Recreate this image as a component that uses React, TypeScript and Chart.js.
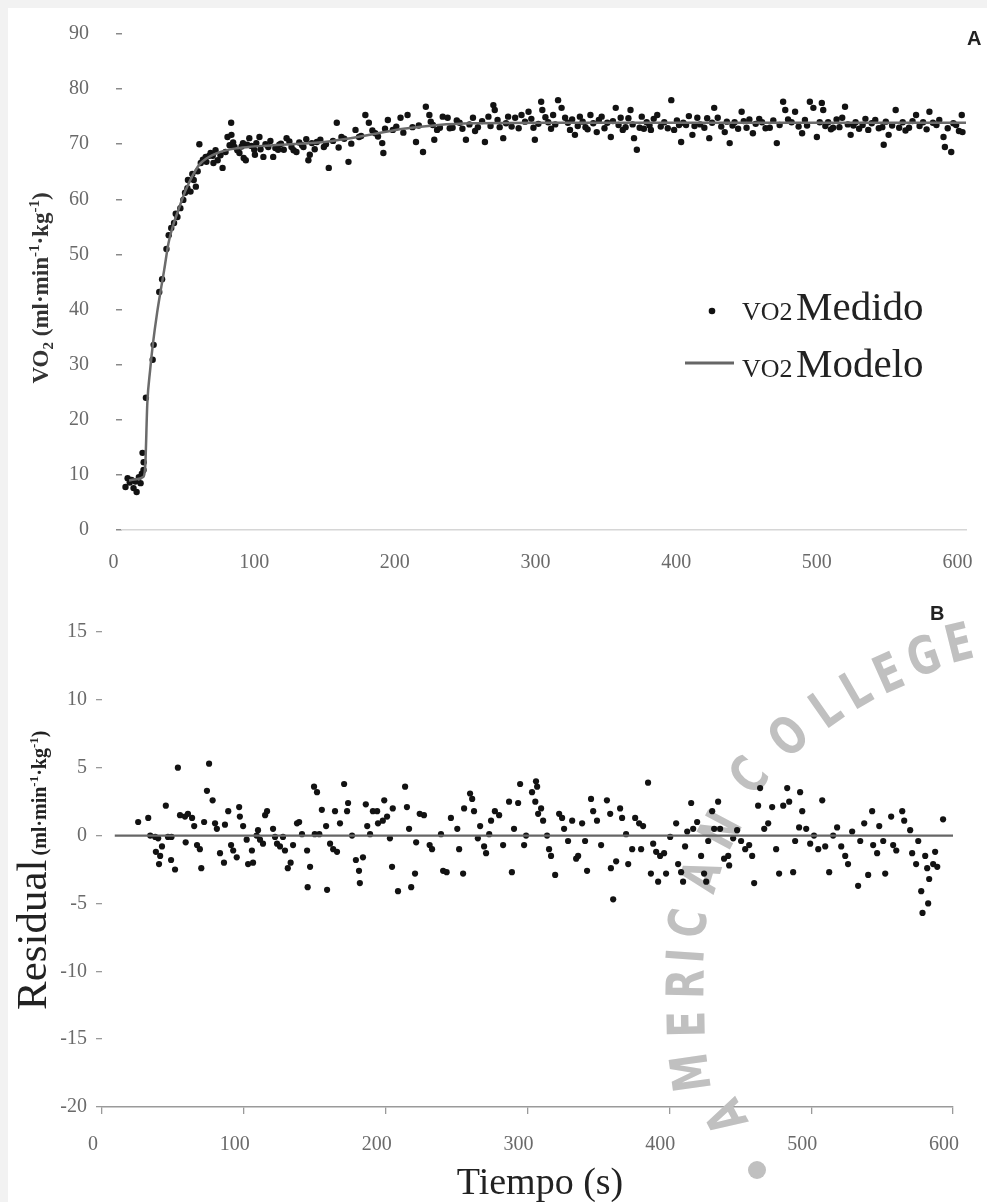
import { useEffect, useRef } from "react";
import { Chart, registerables } from "chart.js";
Chart.register(...registerables);

const SERIF = '"Liberation Serif", "Times New Roman", serif';
const SANS = '"Liberation Sans", Arial, sans-serif';

// ---- Panel A: measured VO2 (time s, ml/min/kg)
const measuredPoints: [number, number][] = [
  [2.5,7.8],[4,9.4],[5.5,8.6],[6.8,9.1],[8.2,7.6],[9.5,8.8],[10.4,6.9],[12,9.6],[13.2,8.5],[14.1,10.2],[14.6,14.0],[15.3,10.9],[15.4,12.3],
  [17.0,24.0],[21.8,30.9],[22.5,33.6],[26.5,43.2],[28.5,45.5],[31.6,51.0],[33.2,53.5],[35,54.8],[37,55.7],[38.2,57.4],[39.4,56.8],[41.5,58.4],
  [43.6,59.9],[44.8,61.2],[46.5,62.0],[46.9,63.5],[48.7,61.4],[50,64.6],[51,63.5],[52.5,62.3],[53.8,65.1],[55,70.0],[56,66.6],[57.5,67.2],
  [59.5,67.7],[60,66.8],[62,67.9],[63,68.4],[64.5,67.9],[65,66.6],[66.5,68.9],[68,67.1],[70,68.0],[71.5,65.7],[73.6,68.6],[75,71.3],
  [76.5,69.8],[77.6,73.9],[77.8,71.7],[79,70.3],[80,69.5],[82,68.9],[83.5,68.4],[85,69.6],[86,70.2],[86.5,67.5],[88,67.1],[89,69.9],
  [90.5,71.1],[92,69.7],[94,69.0],[94.5,68.1],[95.5,70.2],[97.7,71.3],[98.5,69.1],[100.5,67.7],[102,70.0],[104,69.5],[105.5,70.6],
  [107.5,67.7],[109,69.3],[111,69.0],[111.8,69.9],[113,70.1],[115,69.0],[117,71.1],[119,70.5],[120.5,69.5],[122,68.9],[124,68.6],
  [126,70.3],[128,69.8],[129,69.5],[131,70.9],[132.5,67.1],[133.5,68.1],[135,70.2],[137,69.1],[138.5,70.4],[141,70.8],[143.5,69.5],
  [145,70.0],[147,65.7],[150,70.6],[152.7,73.9],[154,69.4],[156,71.3],[158,71.0],[161,66.8],[163,70.1],[166,72.6],[168.5,71.3],
  [170,71.5],[173,75.3],[175.5,73.9],[178,72.5],[180,72.0],[182,71.4],[185,70.2],[185.8,68.4],[187,72.8],[189,74.4],[192.5,72.6],
  [195,73.2],[198,74.8],[200,72.1],[203,75.3],[206.5,73.1],[209,70.4],[211,73.4],[214,68.6],[216,76.8],[218.5,75.3],[219.5,74.1],
  [221,73.5],[222,70.8],[224,72.6],[226,73.0],
  [228,75.0],[231.5,74.8],[233,72.9],[235,73.0],[238,74.3],[240,73.9],[242,72.8],[244.5,70.8],[247,73.6],[249.5,74.8],[251,72.4],
  [253,73.1],[256,74.2],[258,70.4],[260.5,75.0],[262,73.3],[264,77.1],[265,76.2],[267,74.4],[268.5,73.1],[271,71.1],[273,73.8],
  [274.5,75.0],[277,73.2],[279.5,74.8],[282,72.9],[284,75.3],[286.5,74.1],[289,75.9],[291,74.6],[292.5,73.0],[293.5,70.8],[296,73.7],
  [298,77.7],[298.8,76.2],[301,74.9],[303,74.0],[305,72.8],[306.5,75.3],[308,73.6],[310,78.0],[312.5,76.6],[315,74.8],[317,73.9],
  [318.5,72.6],[320,74.5],[322,71.7],[324,73.3],[325.5,75.0],[327.5,74.1],[329.5,73.1],[331,72.7],[333,75.3],[335,73.8],[337.5,72.2],
  [339,74.4],[341,75.0],[343,72.9],[345,73.9],[347.5,71.3],[349,74.2],[351,76.6],[353,73.5],[354.5,74.8],[356,72.6],[358,73.1],
  [360,74.7],[361.5,76.2],[363,73.6],[364,71.1],[366,69.0],[368,73.0],[369.5,75.0],[371,72.8],[373,74.0],[375,73.4],[376,72.6],
  [378,74.6],[380.5,75.3],[383,73.2],[385.5,74.0],[388,72.9],[390.5,78.0],[392.5,72.6],[394.5,74.3],[396,73.5],[397.5,70.4],[399,73.9],
  [401,73.5],[403,75.1],[405.5,71.7],[407,73.3],[409,74.8],
  [411,73.6],[414,73.0],[416,74.7],[417.5,71.1],[419.5,73.9],[421,76.6],[423.5,74.8],[426,73.2],[428.5,72.2],[430,74.1],[432,70.2],
  [434,73.4],[435.5,74.0],[438,72.8],[440.5,75.9],[442,74.2],[444,73.0],[446,74.5],[448.5,72.0],[450.5,73.7],[453,74.6],[455,74.0],
  [457.5,72.9],[460.5,73.0],[463,74.3],[465.5,70.2],[467.5,73.5],[470,77.7],[471.5,76.2],[473.5,74.5],[476,74.0],[478.5,75.9],
  [481,73.2],[483.5,72.0],[485.5,74.4],[487,73.4],[489,77.7],[491.5,76.6],[494,71.3],[496,74.0],[497.5,77.5],[498.5,76.2],[500,73.3],
  [502,74.0],[504,72.7],[505.5,73.0],[508,74.5],[510,73.1],[512,74.8],[514,76.8],[516,73.6],[518,71.7],[520,73.4],[521.5,74.0],
  [524,72.8],[526.5,73.5],[528.5,74.6],[530.5,72.6],[533,73.8],[535.5,74.4],[538,72.9],[540.5,73.1],[541.5,69.9],[543,74.1],
  [545,71.7],[547.5,73.4],[550,76.2],[552.5,73.0],[555,74.0],[557,72.5],[559.5,73.0],[562,74.2],[564.5,75.3],[567,73.3],[569.5,74.0],
  [572,72.7],[574,75.9],[576.5,73.9],[579,73.5],[581,74.4],[584,71.3],[585,69.5],[587,72.9],[589.5,68.6],[591,73.8],[593,73.5],
  [595,72.4],[597,75.3],[597.5,72.2]
];

// ---- Panel A: fitted model
const modelTime = [5, 10, 15, 16.5, 18, 20, 22, 25, 28, 30, 33, 36, 40, 45, 50, 55, 60, 70, 80, 90, 100, 120, 140, 160, 180, 200, 225, 250, 300, 400, 500, 600];
const modelVO2 = [9.0, 9.2, 9.6, 11.5, 23.0, 29.0, 33.8, 39.5, 44.2, 47.2, 52.0, 55.0, 58.0, 61.5, 64.2, 66.3, 67.4, 68.6, 69.2, 69.5, 69.7, 70.0, 70.3, 71.0, 71.9, 72.8, 73.5, 73.8, 73.9, 73.9, 73.9, 73.9];

// ---- Panel B: residuals
const residualPoints: [number, number][] = [
  [25.5,1.0],[32.6,1.3],[34,0],[37.5,-0.1],[39.6,-0.2],[38,-1.2],[42.3,-0.8],[41,-1.5],[40.2,-2.1],[45,2.2],[46.5,-0.1],[49,-0.1],
  [48.7,-1.8],[51.5,-2.5],[53.5,5.0],[55,1.5],[58.5,1.4],[60.6,1.6],[63.5,1.3],[65,0.7],[59,-0.5],[67,-0.7],[69,-1.0],[70,-2.4],
  [72,1.0],[74,3.3],[78,2.6],[75.5,5.3],[79.7,0.9],[81,0.5],[83.2,-1.3],[86,-2.0],[86.7,0.8],[89,1.8],[91,-0.7],[92.5,-1.1],[95,-1.6],
  [96.7,2.1],[97.2,1.4],[99.5,0.7],[102,-0.3],[103,-2.1],[105.7,-1.1],[106.5,-2.0],[109,0],[110,0.4],[111.4,-0.3],[113.5,-0.6],
  [115,1.5],[116.4,1.8],[120.6,0.5],[122,-0.1],[123.4,-0.6],[125.5,-0.8],[127.6,-0.1],[129,-1.1],[131,-2.4],[133,-2.0],[134.7,-0.7],
  [137.5,0.9],[139,1.0],[141,0.1],[144.6,-1.1],[145,-3.8],[146.7,-2.3],[149.5,3.6],[151.6,3.2],[150,0.1],[155,1.9],[153.2,0.1],
  [158,0.7],[158.7,-4.0],[160.8,-0.6],[163,-1.0],[164.3,1.8],[165.7,-1.2],[167.8,0.9],[170.7,3.8],[172.8,1.8],[173.5,2.4],[176.3,0],
  [179,-1.8],[181.2,-2.6],[181.8,-3.5],[184,-1.6],[186,2.3],[187,0.7],[189,0.1],[191,1.8],[194,1.8],[194.6,0.9],[198,1.1],[199,2.6],
  [201,1.4],[203,-0.2],[204.5,-2.3],[205,2.0],[208.7,-4.1],
  [213.7,3.6],[215,2.1],[216.5,0.5],[218,-3.8],[220.7,-2.8],[221.5,-0.5],[224,1.6],[227,1.5],[231,-0.7],[232.7,-1.0],[239,0.1],
  [240.5,-2.6],[243,-2.7],[246,1.3],[250.5,0.5],[251.8,-1.0],[254.6,-2.8],[255.3,2.0],[259.5,3.1],[261,2.7],[262.3,1.8],[265,-0.2],
  [266.6,0.7],[269.4,-0.8],[270.8,-1.3],[273,0.1],[274.3,1.1],[277,1.8],[280,1.5],[282.8,-0.7],[287,2.5],[289,-2.7],[290.5,0.5],
  [293.4,2.4],[294.8,3.8],[297.6,-0.7],[299,0],[303.2,3.2],[306,4.0],[306.8,3.6],[305.5,2.5],[307.5,1.6],[309.6,2.0],[311,1.1],
  [313.8,0],[315.2,-1.0],[316.6,-1.5],[319.5,-2.9],[322.3,1.6],[324.4,1.3],[325.8,0.5],[328.6,-0.4],[331.5,1.1],[334.3,-1.7],
  [335.7,-1.5],[338.5,0.9],[340.6,-0.4],[342,-2.6],[344.8,2.7],[346.3,1.8],[349,1.1],[351.9,-0.7],[356,2.6],[358.3,1.6],[358.8,-2.4],
  [360.4,-4.7],[362.5,-1.9],[365.3,2.0],[366.7,1.3],[369.5,0.1],[371,-2.1],[373.8,-1.0],[375.9,1.3],[378.7,0.9],[380.1,-1.0],
  [381.5,0.7],[385,3.9],[387,-2.8],[388.6,-0.6],[390.7,-1.2],[392.1,-3.4],[393.5,-1.5],[396.3,-1.3],[397.7,-2.8],[400.6,-0.1],
  [404.8,0.9],[406.2,-2.1],[408.3,-2.7],[409.7,-3.4],[411.1,-0.8],[412.6,0.3],[415.4,2.4],[416.8,0.5],[419.6,1.0],[422.4,-1.5],
  [424.5,-2.8],[426,-3.4],[427.4,-0.4],[430.2,1.8],[431.6,0.5],[434.4,2.5],[435.8,0.5],[438.6,-1.7],[441.5,-1.5],[442.2,-2.2],
  [445,-0.2],[447.8,0.4],[450.6,-0.4],[453.5,-1.0],[456.3,-0.7],[458.4,-1.5],[459.8,-3.5],[462.6,2.2],[464,3.5],[466.9,0.5],
  [469.7,0.9],[472.5,2.1],[475.3,-1.0],[477.4,-2.8],[480.3,2.2],[483.1,3.5],[484.5,2.5],[487.3,-2.7],[488.7,-0.4],[491.5,0.6],
  [492.2,3.2],[493.7,1.8],[496.5,0.5],[499.3,-0.6],[502,0],[505,-1.0],[507.8,2.6],[509.9,-0.8],[512.7,-2.7],[515.5,0],[518.3,0.6],
  [521.2,-0.8],[524,-1.5],[526,-2.1],[528.9,0.3],[533.1,-3.7],[534.6,-0.4],[537.4,0.9],[540.2,-2.9],[543,1.8],[543.7,-0.7],
  [546.5,-1.3],[548,0.7],[550.8,-0.4],[552.2,-2.8],[556.4,1.4],[557.8,-0.7],[560,-1.1],[564.2,1.8],[565.6,1.1],[569.8,0.4],
  [571.2,-1.3],[574,-2.1],[575.5,-0.4],[577.6,-4.1],[580.4,-1.5],[581.8,-2.4],[583.2,-3.2],[582.5,-5.0],[578.5,-5.7],[586,-2.1],
  [587.4,-1.2],[588.9,-2.3],[593,1.2]
];
const residualLineTime = [9, 600];
const residualLineValue = [0, 0];

// ---- Axis ticks
const xTicks = [0, 100, 200, 300, 400, 500, 600];
const yTicksA = [0, 10, 20, 30, 40, 50, 60, 70, 80, 90];
const yTicksB = [-20, -15, -10, -5, 0, 5, 10, 15];

// ---- Watermark letters (decoration)
const watermark: [string, number, number, number][] = [
  ["A", 722, 527, -118], ["M", 687, 484, -98], ["E", 683, 436, -91], ["R", 682, 396, -89], ["I", 682, 368, -86],
  ["C", 684, 336, -80], ["A", 697, 289, -73], ["N", 716, 244, -62],
  ["C", 744, 190, -50], ["O", 783, 151, -42], ["L", 820, 124, -35], ["L", 850, 105, -30], ["E", 882, 89, -24],
  ["G", 917, 72, -19], ["E", 952, 59, -14]
];

type Part = { t: string; size: number; bold?: boolean; dy?: number };
function drawRich(ctx: CanvasRenderingContext2D, x: number, y: number, angle: number, parts: Part[], align: "left" | "center", color: string) {
  ctx.save();
  ctx.translate(x, y);
  ctx.rotate(angle);
  ctx.fillStyle = color;
  ctx.textAlign = "left";
  ctx.textBaseline = "alphabetic";
  const fontOf = (p: Part) => `${p.bold ? "bold " : ""}${p.size}px ${SERIF}`;
  let total = 0;
  for (const p of parts) { ctx.font = fontOf(p); total += ctx.measureText(p.t).width; }
  let cx = align === "center" ? -total / 2 : 0;
  for (const p of parts) {
    ctx.font = fontOf(p);
    ctx.fillText(p.t, cx, p.dy || 0);
    cx += ctx.measureText(p.t).width;
  }
  ctx.restore();
}

const W = 979;
const HA = 580;
const HB = 614;

function tickOpts(size: number, padding: number, labelOffset = 0) {
  return {
    font: { family: SERIF, size },
    color: "#6a6a6a",
    padding,
    labelOffset,
    autoSkip: false,
    maxRotation: 0,
    minRotation: 0,
  };
}

export default function App() {
  const refA = useRef<HTMLCanvasElement | null>(null);
  const refB = useRef<HTMLCanvasElement | null>(null);

  useEffect(() => {
    document.body.style.margin = "8px 0 0 8px";
    document.body.style.background = "#f2f2f2";
    document.documentElement.style.overflow = "hidden";

    const pluginA = {
      id: "decorA",
      afterDraw(chart: any) {
        const ctx: CanvasRenderingContext2D = chart.ctx;
        drawRich(ctx, 40, 280, -Math.PI / 2, [
          { t: "VO", size: 23, bold: true },
          { t: "2", size: 15, bold: true, dy: 5 },
          { t: " (ml·min", size: 23, bold: true },
          { t: "-1", size: 15, bold: true, dy: -9 },
          { t: "·kg", size: 23, bold: true },
          { t: "-1", size: 15, bold: true, dy: -9 },
          { t: ")", size: 23, bold: true },
        ], "center", "#333");
        ctx.save();
        ctx.fillStyle = "#111";
        ctx.beginPath();
        ctx.arc(704, 303, 3.3, 0, Math.PI * 2);
        ctx.fill();
        ctx.strokeStyle = "#666";
        ctx.lineWidth = 3;
        ctx.beginPath();
        ctx.moveTo(677, 355);
        ctx.lineTo(726, 355);
        ctx.stroke();
        ctx.restore();
        drawRich(ctx, 734, 312, 0, [{ t: "VO2", size: 26 }, { t: " ", size: 14 }, { t: "Medido", size: 41 }], "left", "#222");
        drawRich(ctx, 734, 369, 0, [{ t: "VO2", size: 26 }, { t: " ", size: 14 }, { t: "Modelo", size: 41 }], "left", "#222");
        ctx.save();
        ctx.font = `bold 20px ${SANS}`;
        ctx.fillStyle = "#222";
        ctx.textAlign = "left";
        ctx.fillText("A", 959, 37);
        ctx.restore();
      },
    };

    const pluginB = {
      id: "decorB",
      beforeDatasetsDraw(chart: any) {
        const ctx: CanvasRenderingContext2D = chart.ctx;
        ctx.save();
        ctx.fillStyle = "#c0c0c0";
        ctx.font = `bold 52px "DejaVu Sans", ${SANS}`;
        ctx.textAlign = "center";
        ctx.textBaseline = "middle";
        for (const [ch, x, y, a] of watermark) {
          ctx.save();
          ctx.translate(x, y);
          ctx.rotate((a * Math.PI) / 180);
          ctx.scale(0.74, 1);
          ctx.fillText(ch, 0, 0);
          ctx.restore();
        }
        ctx.beginPath();
        ctx.arc(749, 582, 9, 0, Math.PI * 2);
        ctx.fill();
        ctx.restore();
      },
      afterDraw(chart: any) {
        const ctx: CanvasRenderingContext2D = chart.ctx;
        drawRich(ctx, 38, 422, -Math.PI / 2, [
          { t: "Residual", size: 43 },
          { t: " ", size: 16 },
          { t: "(ml·min", size: 20, bold: true },
          { t: "-1", size: 13, bold: true, dy: -8 },
          { t: "·kg", size: 20, bold: true },
          { t: "-1", size: 13, bold: true, dy: -8 },
          { t: ")", size: 20, bold: true },
        ], "left", "#222");
        drawRich(ctx, 532, 606, 0, [{ t: "Tiempo (s)", size: 38 }], "center", "#222");
        ctx.save();
        ctx.font = `bold 20px ${SANS}`;
        ctx.fillStyle = "#222";
        ctx.fillText("B", 922, 32);
        ctx.restore();
      },
    };

    const chartA = new Chart(refA.current as HTMLCanvasElement, {
      type: "scatter",
      data: {
        datasets: [
          {
            label: "VO2 Modelo",
            data: modelTime.map((t, i) => ({ x: t, y: modelVO2[i] })),
            showLine: true,
            borderColor: "#6b6b6b",
            borderWidth: 2.5,
            pointRadius: 0,
            cubicInterpolationMode: "monotone",
            order: 0,
          } as any,
          {
            label: "VO2 Medido",
            data: measuredPoints.map(([t, v]) => ({ x: t, y: v })),
            backgroundColor: "#121212",
            borderColor: "#121212",
            borderWidth: 0,
            pointRadius: 3.2,
            order: 1,
          },
        ],
      },
      options: {
        animation: false,
        responsive: false,
        events: [],
        layout: { padding: { left: 0, right: W - 958, top: 26, bottom: 0 } },
        plugins: { legend: { display: false }, tooltip: { enabled: false } },
        scales: {
          x: {
            type: "linear",
            min: 0,
            max: 600,
            afterBuildTicks: (s: any) => { s.ticks = xTicks.map((v) => ({ value: v })); },
            afterFit: (s: any) => { s.height = HA - 522; s.paddingLeft = 0; s.paddingRight = 0; },
            ticks: tickOpts(20, 21, -8.5),
            grid: { display: false, drawTicks: false },
            border: { display: true, color: "#d6d6d6", width: 1.5, dash: [2, 5] },
          },
          y: {
            type: "linear",
            min: 0,
            max: 90,
            afterBuildTicks: (s: any) => { s.ticks = yTicksA.map((v) => ({ value: v })); },
            afterFit: (s: any) => { s.width = 114; s.paddingTop = 0; s.paddingBottom = 0; },
            ticks: tickOpts(20, 27),
            grid: { display: true, drawOnChartArea: false, drawTicks: true, tickLength: 6, color: "#8a8a8a", lineWidth: 1.5 },
            border: { display: false },
          },
        },
      } as any,
      plugins: [pluginA],
    });

    const chartB = new Chart(refB.current as HTMLCanvasElement, {
      type: "scatter",
      data: {
        datasets: [
          {
            label: "Modelo",
            data: residualLineTime.map((t, i) => ({ x: t, y: residualLineValue[i] })),
            showLine: true,
            borderColor: "#666",
            borderWidth: 2.2,
            pointRadius: 0,
            order: 0,
          } as any,
          {
            label: "Residual",
            data: residualPoints.map(([t, v]) => ({ x: t, y: v })),
            backgroundColor: "#121212",
            borderColor: "#121212",
            borderWidth: 0,
            pointRadius: 3.1,
            order: 1,
          },
        ],
      },
      options: {
        animation: false,
        responsive: false,
        events: [],
        layout: { padding: { left: 0, right: W - 945, top: 44, bottom: 0 } },
        plugins: { legend: { display: false }, tooltip: { enabled: false } },
        scales: {
          x: {
            type: "linear",
            min: 0,
            max: 600,
            afterBuildTicks: (s: any) => { s.ticks = xTicks.map((v) => ({ value: v })); },
            afterFit: (s: any) => { s.height = HB - 519; s.paddingLeft = 0; s.paddingRight = 0; },
            ticks: tickOpts(20, 19, -9),
            grid: { display: true, drawOnChartArea: false, drawTicks: true, tickLength: 7, color: "#9a9a9a", lineWidth: 1.3 },
            border: { display: true, color: "#9a9a9a", width: 1.5 },
          },
          y: {
            type: "linear",
            min: -20,
            max: 15,
            afterBuildTicks: (s: any) => { s.ticks = yTicksB.map((v) => ({ value: v })); },
            afterFit: (s: any) => { s.width = 94; s.paddingTop = 0; s.paddingBottom = 0; },
            ticks: tickOpts(20, 9),
            grid: { display: true, drawOnChartArea: false, drawTicks: true, tickLength: 6, color: "#9a9a9a", lineWidth: 1.3 },
            border: { display: false },
          },
        },
      } as any,
      plugins: [pluginB],
    });

    return () => {
      chartA.destroy();
      chartB.destroy();
    };
  }, []);

  return (
    <div style={{ position: "relative", width: W, height: 1194, background: "#fff", overflow: "hidden" }}>
      <canvas ref={refA} width={W} height={HA} style={{ position: "absolute", left: 0, top: 0, width: W, height: HA }} />
      <canvas ref={refB} width={W} height={HB} style={{ position: "absolute", left: 0, top: HA, width: W, height: HB }} />
    </div>
  );
}
